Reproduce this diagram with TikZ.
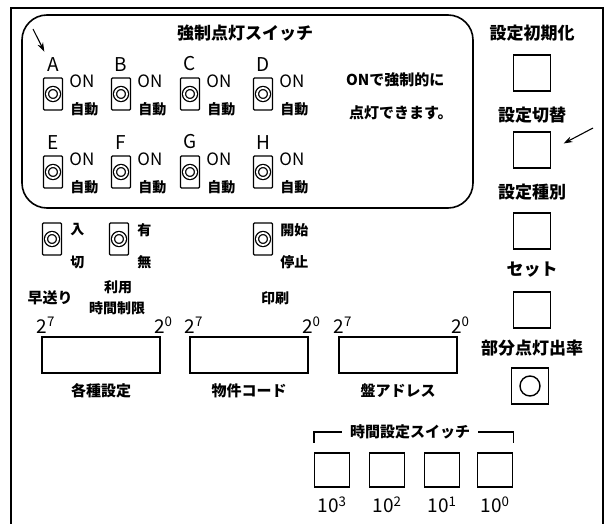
\documentclass[tikz,border=0pt]{standalone}
\usepackage{fontspec}
\setmainfont{Noto Sans CJK JP}
\usetikzlibrary{arrows.meta, positioning, calc}

\begin{document}
\begin{tikzpicture}[x=1pt, y=-1pt,
  panel/.style={line width=1.4pt},
  swbox/.style={draw, line width=1.4pt, minimum width=19pt, minimum height=32pt, inner sep=0pt, rounded corners=1pt},
  knob/.style={draw, circle, double, double distance=1.8pt, line width=1.3pt, minimum size=12pt, inner sep=0pt},
  keybox/.style={draw, line width=1.4pt, minimum width=37pt, minimum height=36pt, inner sep=0pt},
  segbox/.style={draw, line width=1.4pt, minimum width=118pt, minimum height=36pt, inner sep=0pt},
  timebox/.style={draw, line width=1.4pt, minimum width=35pt, minimum height=34pt, inner sep=0pt},
  letter/.style={font=\fontsize{19}{20}\selectfont, inner sep=0pt},
  onlbl/.style={font=\fontsize{17}{18}\selectfont, anchor=west, inner sep=0pt},
  jpS/.style={font=\fontsize{14}{15}\selectfont\bfseries, inner sep=0pt},
  jpM/.style={font=\fontsize{15}{16}\selectfont\bfseries, inner sep=0pt},
  jpL/.style={font=\fontsize{17}{18}\selectfont\bfseries, inner sep=0pt},
  expo/.style={font=\fontsize{19}{20}\selectfont, inner sep=0pt},
  pointer/.style={-{Stealth[length=9pt,width=6pt]}, line width=1.1pt}
]
  \useasboundingbox (0,0) rectangle (610,524);

  % Outer frame (open at the bottom)
  \draw[panel] (11,524) -- (11,8) -- (603,8) -- (603,524);

  % Forced lighting switches
  \node[draw, line width=1.6pt, rounded corners=25pt, minimum width=451pt, minimum height=193pt, inner sep=0pt] (forced) at (247.5,111.5) {};
  \node[jpL] (forcedttl) at (245,33) {強制点灯スイッチ};

  \foreach \n/\x/\y in {A/53/94, B/121/94, C/190/94, D/263/94, E/53/172, F/121/172, G/190/172, H/263/172} {
    \node[swbox] (sw\n) at (\x,\y) {};
    \node[knob] at (sw\n) {};
    \node[letter, above=6pt of sw\n] (lbl\n) {\n};
    \node[onlbl] at ($(sw\n.east)+(6,-13)$) {ON};
    \node[jpS, anchor=west] at ($(sw\n.east)+(7,15)$) {自動};
  }

  \coordinate (arrA) at (33,29);
  \draw[pointer, shorten >=6pt] (arrA) -- (lblA.north west);

  \node[jpM, anchor=west] (note1) at (346,80) {ONで強制的に};
  \node[jpM, anchor=west] (note2) at (349,113) {点灯できます。};

  % Right column keys
  \node[jpL] (initlbl) at (532,33) {設定初期化};
  \node[keybox] (key1) at (532,73) {};
  \node[jpL] (chglbl) at (532,115) {設定切替};
  \node[keybox] (key2) at (532,150) {};
  \node[jpL] (kindlbl) at (532,192) {設定種別};
  \node[keybox] (key3) at (532,231) {};
  \node[jpL] (setlbl) at (532,270) {セット};
  \node[keybox] (key4) at (532,310) {};
  \node[jpL] (partlbl) at (532,348) {部分点灯出率};
  \node[keybox] (key5) at (530,386) {};
  \node[draw, circle, line width=1.4pt, minimum size=20pt, inner sep=0pt] at (key5) {};

  \coordinate (arrK) at (593,128);
  \draw[pointer, shorten >=14pt] (arrK) -- (key2.east);

  % Lower switches
  \node[swbox] (swFF) at (52,239) {};
  \node[knob] at (swFF) {};
  \node[jpS, anchor=west] at ($(swFF.east)+(8,-9)$) {入};
  \node[jpS, anchor=west] at ($(swFF.east)+(8,23)$) {切};
  \node[swbox] (swLim) at (119,239) {};
  \node[knob] at (swLim) {};
  \node[jpS, anchor=west] at ($(swLim.east)+(8,-9)$) {有};
  \node[jpS, anchor=west] at ($(swLim.east)+(8,23)$) {無};
  \node[swbox] (swPrn) at (263,239) {};
  \node[knob] at (swPrn) {};
  \node[jpS, anchor=west] at ($(swPrn.east)+(7,-9)$) {開始};
  \node[jpS, anchor=west] at ($(swPrn.east)+(7,23)$) {停止};

  \node[jpM] (fflbl) at (50,298) {早送り};
  \node[jpS] (limlbl1) at (118,287) {利用};
  \node[jpS] (limlbl2) at (117,308) {時間制限};
  \node[jpS] (prnlbl) at (275,298) {印刷};

  % 8-bit displays
  \foreach \s/\x/\t in {1/101/各種設定, 2/249/物件コード, 3/398/盤アドレス} {
    \node[segbox] (seg\s) at (\x,355) {};
    \node[expo, anchor=south west] at ($(seg\s.north west)+(-5,-3)$) {2\textsuperscript{7}};
    \node[expo, anchor=south east] at ($(seg\s.north east)+(12,-3)$) {2\textsuperscript{0}};
    \node[jpM, below=10pt of seg\s] {\t};
  }

  % Time setting switches
  \foreach \e/\x in {3/332, 2/387, 1/442, 0/495} {
    \node[timebox] (t\e) at (\x,470) {};
    \node[expo, below=9pt of t\e] {10\textsuperscript{\e}};
  }
  \node[jpM] (tlbl) at (410,432) {時間設定スイッチ};
  \draw[panel] (tlbl.west) ++(-8,0) -| ($(t3.north west)+(0,-9)$);
  \draw[panel] (tlbl.east) ++(8,0) -| ($(t0.north east)+(0,-9)$);
\end{tikzpicture}
\end{document}
